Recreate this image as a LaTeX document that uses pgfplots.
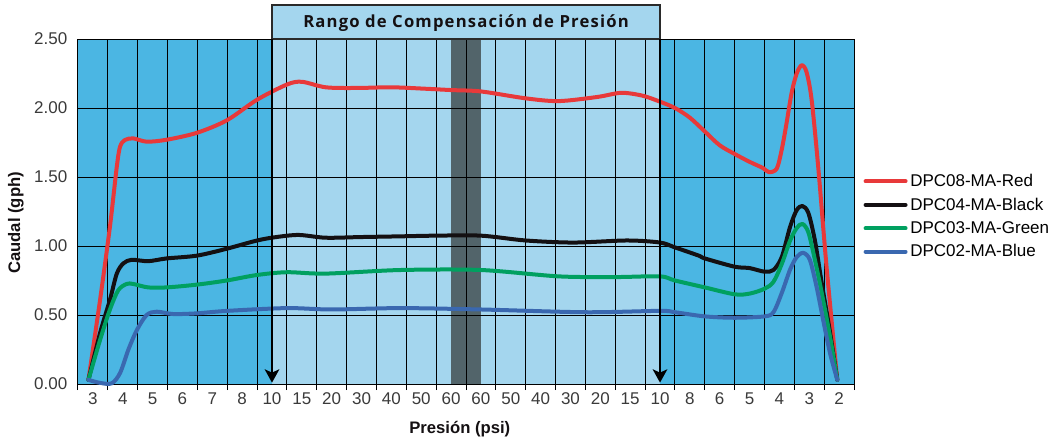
\documentclass[border=0pt]{standalone}
\usepackage{pgfplots}
\pgfplotsset{compat=1.18}
\usepackage{pgfplotstable}
\usepackage{fontspec}
\setmainfont{Liberation Sans}
\newfontfamily\titlefont[LetterSpace=7]{Open Sans}
\usetikzlibrary{arrows.meta}
\definecolor{bgblue}{HTML}{4BB6E3}
\definecolor{lightband}{HTML}{A4D6EE}
\definecolor{darkband}{HTML}{52646A}
\definecolor{cred}{HTML}{E8393A}
\definecolor{cblack}{HTML}{141012}
\definecolor{cgreen}{HTML}{00A060}
\definecolor{cblue}{HTML}{3A68B0}
\definecolor{ticktext}{HTML}{3A3A3A}
\definecolor{boxline}{HTML}{2A2A2A}

\pgfplotstableread{
x y
0.35 0.03
0.74 0.61
1.07 1.14
1.30 1.575
1.41 1.72
1.57 1.768
1.85 1.78
2.30 1.756
2.97 1.77
3.98 1.82
4.98 1.91
6.0 2.06
7.0 2.17
7.5 2.19
8.3 2.15
9.3 2.145
10.5 2.15
11.6 2.14
12.5 2.13
13.5 2.12
15.0 2.07
16.1 2.05
17.4 2.08
18.2 2.11
18.9 2.09
19.45 2.05
20.0 2.0
20.5 1.93
21.0 1.83
21.5 1.73
22.0 1.667
22.5 1.61
22.95 1.565
23.15 1.535
23.41 1.56
23.58 1.70
23.74 1.89
23.91 2.11
24.08 2.25
24.25 2.31
24.41 2.26
24.58 2.06
24.80 1.575
25.08 0.85
25.44 0.03
}\redtab

\pgfplotstableread{
x y
0.35 0.03
0.74 0.37
1.07 0.61
1.30 0.80
1.52 0.874
1.80 0.90
2.35 0.89
2.97 0.91
3.98 0.93
4.98 0.98
6.0 1.04
6.65 1.065
7.4 1.08
8.3 1.06
9.5 1.065
10.8 1.07
12.0 1.075
13.5 1.075
15.0 1.04
16.6 1.025
18.4 1.04
19.5 1.025
20.0 0.99
20.8 0.93
21.0 0.91
22.0 0.85
22.5 0.84
23.0 0.814
23.30 0.826
23.58 0.92
23.86 1.14
24.08 1.26
24.27 1.29
24.47 1.24
24.69 1.04
24.92 0.73
25.2 0.37
25.44 0.03
}\blacktab

\pgfplotstableread{
x y
0.35 0.03
0.74 0.32
1.07 0.54
1.35 0.68
1.63 0.725
1.85 0.725
2.35 0.70
2.97 0.70
3.98 0.72
4.98 0.75
6.0 0.79
7.0 0.81
8.3 0.80
10.8 0.826
13.5 0.826
16.1 0.78
18.0 0.775
19.5 0.78
20.0 0.75
21.0 0.70
22.0 0.65
22.5 0.655
23.0 0.69
23.3 0.74
23.58 0.87
23.86 1.04
24.08 1.13
24.27 1.16
24.47 1.10
24.69 0.90
24.92 0.66
25.2 0.34
25.44 0.03
}\greentab

\pgfplotstableread{
x y
0.35 0.03
0.74 0.008
1.13 0.005
1.41 0.08
1.69 0.25
1.97 0.39
2.30 0.50
2.64 0.524
3.19 0.507
3.98 0.512
5.0 0.53
7.0 0.55
8.5 0.54
10.8 0.55
13.5 0.54
17.0 0.52
19.5 0.53
20.0 0.52
21.0 0.49
22.0 0.48
23.0 0.49
23.3 0.52
23.58 0.66
23.86 0.83
24.08 0.92
24.3 0.95
24.52 0.90
24.75 0.70
24.97 0.46
25.2 0.22
25.44 0.03
}\bluetab

\begin{document}
\begin{tikzpicture}
\begin{axis}[
  set layers,
  scale only axis, width=582pt, height=258.75pt,
  xmin=0, xmax=26, ymin=0, ymax=2.5,
  clip=false,
  axis background/.style={fill=bgblue},
  axis line style={black, line width=0.75pt},
  xtick={0,...,26}, xticklabels={},
  extra x ticks={0.5,1.5,2.5,3.5,4.5,5.5,6.5,7.5,8.5,9.5,10.5,11.5,12.5,13.5,14.5,15.5,16.5,17.5,18.5,19.5,20.5,21.5,22.5,23.5,24.5,25.5},
  extra x tick labels={3,4,5,6,7,8,10,15,20,30,40,50,60,60,50,40,30,20,15,10,8,6,5,4,3,2},
  extra x tick style={grid=none, major tick length=0pt},
  xtick pos=lower, ytick pos=left,
  ytick={0,0.5,1,1.5,2,2.5},
  yticklabels={0.00,0.50,1.00,1.50,2.00,2.50},
  ytick style={draw=none},
  xtick style={black, line width=0.75pt},
  tick align=outside, major tick length=4.5pt,
  grid=major, major grid style={black, line width=0.75pt},
  ticklabel style={font=\fontsize{12.75}{15}\selectfont, text=ticktext},
  xticklabel style={yshift=-3pt},
  /pgf/number format/assume math mode=true,
  xlabel={Presión (psi)}, ylabel={Caudal (gph)},
  label style={font=\bfseries\fontsize{12.5}{15}\selectfont, text=cblack},
  xlabel style={at={(rel axis cs:0.492,-0.130)}, anchor=center},
  ylabel style={at={(rel axis cs:-0.080,0.467)}, anchor=center, rotate=0},
  legend style={at={(rel axis cs:1.012,0.617)}, anchor=north west, draw=none, fill=none,
    font=\fontsize{12.75}{15}\selectfont, row sep=3pt, inner sep=0pt},
  legend cell align=left,
  legend image code/.code={\draw[#1, line width=3pt] (0pt,0pt) -- (30pt,0pt);},
  every axis plot/.append style={line width=3pt, smooth, tension=0.5, line join=round, line cap=round},
]
\begin{pgfonlayer}{axis background}
\fill[lightband] (axis cs:6.5,0) rectangle (axis cs:19.5,2.5);
\fill[darkband] (axis cs:12.5,0) rectangle (axis cs:13.5,2.5);
\end{pgfonlayer}

\addplot[cred] table[x=x,y=y] {\redtab};
\addlegendentry{DPC08-MA-Red}
\addplot[cblack] table[x=x,y=y] {\blacktab};
\addlegendentry{DPC04-MA-Black}
\addplot[cgreen] table[x=x,y=y] {\greentab};
\addlegendentry{DPC03-MA-Green}
\addplot[cblue] table[x=x,y=y] {\bluetab};
\addlegendentry{DPC02-MA-Blue}

\begin{pgfonlayer}{axis foreground}
\filldraw[fill=lightband, draw=boxline, line width=1.2pt] (axis cs:6.5,2.5) rectangle (axis cs:19.5,2.746);
\node[font=\titlefont\bfseries\fontsize{12.5}{15}\selectfont, text=cblack] at (axis cs:13,2.615) {Rango de Compensación de Presión};
\draw[black, line width=1.2pt, -{Stealth[width=11pt,length=10pt,inset=2.5pt]}] (axis cs:6.5,2.5) -- (axis cs:6.5,0.01);
\draw[black, line width=1.2pt, -{Stealth[width=11pt,length=10pt,inset=2.5pt]}] (axis cs:19.5,2.5) -- (axis cs:19.5,0.01);
\end{pgfonlayer}
\coordinate (SW) at (rel axis cs:0,0);
\coordinate (NE) at (rel axis cs:1,1);
\end{axis}
\pgfresetboundingbox
\path ([xshift=-58.5pt,yshift=-44.25pt]SW) rectangle ([xshift=147.75pt,yshift=29.25pt]NE);
\end{tikzpicture}
\end{document}
